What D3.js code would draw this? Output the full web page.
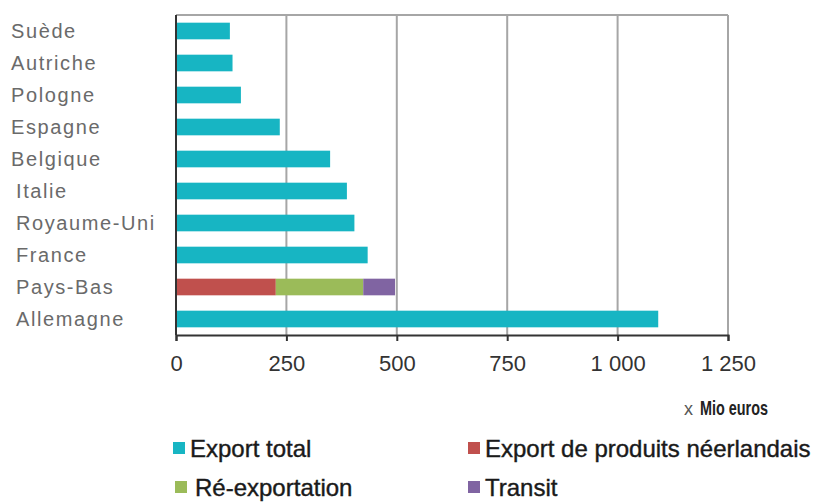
<!DOCTYPE html>
<html>
<head>
<meta charset="utf-8">
<script src="https://cdn.jsdelivr.net/npm/d3@7"></script>
<style>
  body { margin: 0; background: #fff; }
  svg { display: block; }
</style>
</head>
<body>
<div class="chart"></div>
<script>
// Data (Mio euros)
const countries = ["Suède", "Autriche", "Pologne", "Espagne", "Belgique",
                   "Italie", "Royaume-Uni", "France", "Pays-Bas", "Allemagne"];
const exportTotal = [122, 128, 147, 235, 349, 387, 404, 434, 0, 1092];
const exportNL    = [0, 0, 0, 0, 0, 0, 0, 0, 226, 0];
const reExport    = [0, 0, 0, 0, 0, 0, 0, 0, 198, 0];
const transit     = [0, 0, 0, 0, 0, 0, 0, 0, 72, 0];
const xTicks = [0, 250, 500, 750, 1000, 1250];
const seriesNames = ["Export total", "Export de produits néerlandais", "Ré-exportation", "Transit"];
const seriesColors = ["#17b5c3", "#c0504d", "#9bbb59", "#8064a2"];

const W = 821, H = 502;
const margin = { top: 15, right: 93, bottom: 167, left: 176 };
const width = W - margin.left - margin.right,
      height = H - margin.top - margin.bottom;

const svg = d3.select(".chart").append("svg")
    .attr("width", W)
    .attr("height", H);

const g = svg.append("g")
    .attr("transform", `translate(${margin.left},${margin.top})`);

const x = d3.scaleLinear().domain([0, 1250]).range([0, width]);
const y = d3.scaleBand().domain(countries).range([0, height])
    .paddingInner(0.48).paddingOuter(0.24);

// Gridlines + frame
g.selectAll(".grid")
    .data(xTicks.slice(1))
    .enter().append("line")
    .attr("x1", d => x(d)).attr("x2", d => x(d))
    .attr("y1", 0).attr("y2", height)
    .attr("stroke", "#a6a6a6").attr("stroke-width", 2);
g.append("line")
    .attr("x1", 0).attr("x2", width).attr("y1", 0).attr("y2", 0)
    .attr("stroke", "#a6a6a6").attr("stroke-width", 2);

// Rows of data, one object per country
const rows = countries.map((c, i) => ({
    country: c,
    "Export total": exportTotal[i],
    "Export de produits néerlandais": exportNL[i],
    "Ré-exportation": reExport[i],
    "Transit": transit[i]
}));

const stacked = d3.stack().keys(seriesNames)(rows);

g.selectAll(".series")
    .data(stacked)
    .enter().append("g")
    .attr("fill", (d, i) => seriesColors[i])
    .selectAll("rect")
    .data(d => d.filter(p => p[1] - p[0] > 0))
    .enter().append("rect")
    .attr("x", d => x(d[0]))
    .attr("y", d => y(d.data.country))
    .attr("width", d => x(d[1]) - x(d[0]))
    .attr("height", y.bandwidth());

// X axis
const xAxis = g.append("g")
    .attr("transform", `translate(0,${height})`)
    .call(d3.axisBottom(x).tickValues(xTicks).tickSize(6).tickSizeOuter(6)
        .tickFormat(d => d3.format(",")(d).replace(",", " ")));
xAxis.select(".domain").attr("stroke", "#333").attr("stroke-width", 2);
xAxis.selectAll(".tick line").attr("stroke", "#333").attr("stroke-width", 2);
xAxis.selectAll(".tick text")
    .attr("y", 20)
    .attr("font-family", "'Liberation Sans', Arial, sans-serif")
    .attr("font-size", "22px")
    .attr("fill", "#333");

// Y axis line
g.append("line")
    .attr("x1", 0).attr("x2", 0).attr("y1", 0).attr("y2", height)
    .attr("stroke", "#333").attr("stroke-width", 2);

// Category labels
svg.selectAll(".cat")
    .data(countries)
    .enter().append("text")
    .attr("x", (d, i) => i < 5 ? 11 : 16)
    .attr("y", d => margin.top + y(d) + y.bandwidth() / 2)
    .attr("dy", "0.36em")
    .attr("font-family", "'Liberation Sans', Arial, sans-serif")
    .attr("font-size", "20px")
    .attr("letter-spacing", "1.6px")
    .attr("fill", "#6a6a6a")
    .text(d => d);

// Unit label
svg.append("text")
    .attr("x", 684).attr("y", 415)
    .attr("font-family", "'Liberation Sans', Arial, sans-serif")
    .attr("font-size", "18px")
    .attr("fill", "#555")
    .text("x");
svg.append("text")
    .attr("x", 700).attr("y", 415)
    .attr("font-family", "'Liberation Sans', Arial, sans-serif")
    .attr("font-size", "21px")
    .attr("font-weight", "bold")
    .attr("fill", "#222")
    .attr("textLength", 68)
    .attr("lengthAdjust", "spacingAndGlyphs")
    .text("Mio euros");

// Legend
const legendPos = [[173, 448], [468, 448], [175, 487], [468, 487]];
const legend = svg.selectAll(".legend")
    .data(seriesNames)
    .enter().append("g")
    .attr("transform", (d, i) => `translate(${legendPos[i][0]},${legendPos[i][1]})`);
legend.append("rect")
    .attr("x", 0).attr("y", -6)
    .attr("width", 12).attr("height", 12)
    .attr("fill", (d, i) => seriesColors[i]);
legend.append("text")
    .attr("x", (d, i) => i === 2 ? 20 : 17)
    .attr("dy", "0.36em")
    .attr("font-family", "'Liberation Sans', Arial, sans-serif")
    .attr("font-size", "24px")
    .attr("fill", "#1a1a1a")
    .attr("stroke", "#1a1a1a")
    .attr("stroke-width", 0.4)
    .text(d => d);
</script>
</body>
</html>
